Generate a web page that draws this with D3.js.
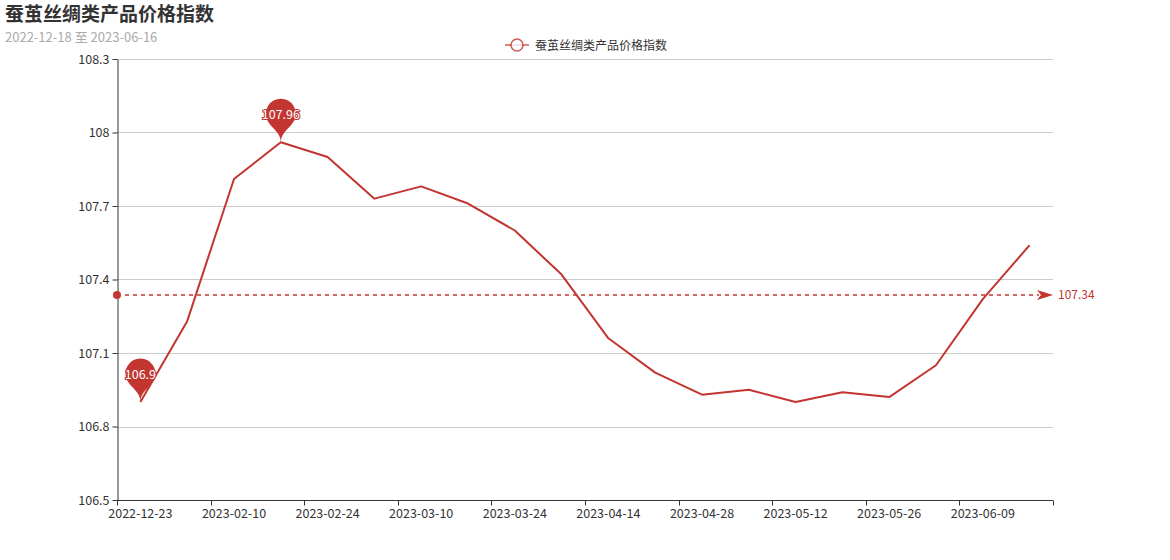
<!DOCTYPE html>
<html><head><meta charset="utf-8">
<script src="https://cdn.jsdelivr.net/npm/d3@7/dist/d3.min.js"></script>
<style>body{margin:0;background:#fff}svg{display:block}text{font-family:"Microsoft YaHei","Noto Sans CJK SC",sans-serif}</style>
</head><body><svg id="c" width="1170" height="560"></svg>
<script>
const titleText = "蚕茧丝绸类产品价格指数";
const subtitleText = "2022-12-18 至 2023-06-16";
const seriesName = "蚕茧丝绸类产品价格指数";
const categories = ["2022-12-23","2023-01-06","2023-02-10","2023-02-17","2023-02-24","2023-03-03","2023-03-10","2023-03-17","2023-03-24","2023-03-31","2023-04-14","2023-04-21","2023-04-28","2023-05-05","2023-05-12","2023-05-19","2023-05-26","2023-06-02","2023-06-09","2023-06-16"];
const values = [106.9,107.23,107.81,107.96,107.90,107.73,107.78,107.71,107.60,107.42,107.16,107.02,106.93,106.95,106.90,106.94,106.92,107.05,107.32,107.54];
const yTicks = [106.5,106.8,107.1,107.4,107.7,108,108.3];

const color = "#c23531";
const svg = d3.select("#c");
const L=117,R=1053,T=59,B=500;
const x = d3.scaleBand().domain(categories).range([L,R]);
const y = d3.scaleLinear().domain([106.5,108.3]).range([B,T]);
const cx = d => x(d)+x.bandwidth()/2;

// title
svg.append("text").attr("x",5).attr("y",21).attr("font-size",19).attr("font-weight","bold").attr("fill","#333").text(titleText);
svg.append("text").attr("x",5).attr("y",42).attr("font-size",13).attr("fill","#aaa").text(subtitleText);

// legend
const lg = svg.append("g");
lg.append("line").attr("x1",505).attr("x2",529).attr("y1",45).attr("y2",45).attr("stroke",color).attr("stroke-width",1.5).attr("opacity",0.8);
lg.append("circle").attr("cx",517).attr("cy",45).attr("r",6).attr("fill","#fff").attr("stroke",color).attr("stroke-width",1.5).attr("opacity",0.8);
lg.append("text").attr("x",535).attr("y",49.5).attr("font-size",12).attr("fill","#333").text(seriesName);

// grid lines
svg.append("g").selectAll("line").data(yTicks.slice(1)).join("line")
  .attr("x1",L).attr("x2",R).attr("y1",d=>Math.round(y(d))+0.5).attr("y2",d=>Math.round(y(d))+0.5)
  .attr("stroke","#ccc");

// y axis
const ya = svg.append("g").attr("transform",`translate(${L+0.5},0)`)
  .call(d3.axisLeft(y).tickValues(yTicks).tickSize(5).tickSizeOuter(0).tickFormat(d=>String(d)));
ya.select(".domain").attr("stroke","#333");
ya.selectAll(".tick line").attr("stroke","#333");
ya.selectAll(".tick text").attr("font-size",12.5).attr("fill","#333").attr("font-family",null).attr("x",-8);

// x axis
const xa = svg.append("g").attr("transform",`translate(0,${B+0.5})`);
xa.append("line").attr("x1",L).attr("x2",R).attr("stroke","#333");
const bounds = d3.range(0,categories.length+1,2);
xa.selectAll("line.tk").data(bounds).join("line").attr("class","tk")
  .attr("x1",i=>Math.round(L+i*x.step())+0.5).attr("x2",i=>Math.round(L+i*x.step())+0.5).attr("y1",0).attr("y2",5).attr("stroke","#333");
xa.selectAll("text").data(categories.filter((d,i)=>i%2===0)).join("text")
  .attr("x",d=>cx(d)).attr("y",17).attr("text-anchor","middle").attr("font-size",12.5).attr("fill","#333").text(d=>d);

// line
svg.append("path").datum(values).attr("fill","none").attr("stroke",color).attr("stroke-width",2).attr("stroke-linejoin","round")
  .attr("d",d3.line().x((d,i)=>cx(categories[i])).y(d=>y(d)));

// mark line average
const avg = d3.mean(values);
const avgLabel = avg.toFixed(2);
const ay = Math.round(y(avg));
svg.append("line").attr("x1",L+8).attr("x2",R-14).attr("y1",ay).attr("y2",ay).attr("stroke",color).attr("stroke-dasharray","4,4").attr("stroke-width",1.5);
svg.append("circle").attr("cx",L).attr("cy",ay).attr("r",4).attr("fill",color);
svg.append("path").attr("fill",color)
  .attr("d",`M${R},${ay} L${R-16},${ay-5} L${R-12},${ay} L${R-16},${ay+5} Z`);
svg.append("text").attr("x",R+5).attr("y",ay+4).attr("font-size",12).attr("fill",color).text(avgLabel);

// pin markers
function pinPath(px,py,size){
  const w=size/5*3, h=Math.max(w,size), r=w/2;
  const dy=r*r/(h-r), cyy=py-h+r+dy, ang=Math.asin(dy/r);
  const dx=Math.cos(ang)*r, tx=Math.sin(ang), ty=Math.cos(ang);
  const c1=r*0.6, c2=r*0.7;
  const p=d3.path();
  p.moveTo(px-dx,cyy+dy);
  p.arc(px,cyy,r,Math.PI-ang,Math.PI*2+ang);
  p.bezierCurveTo(px+dx-tx*c1,cyy+dy+ty*c1,px,py-c2,px,py);
  p.bezierCurveTo(px,py-c2,px-dx+tx*c1,cyy+dy+ty*c1,px-dx,cyy+dy);
  p.closePath();
  return {d:p.toString(), cy:cyy};
}
const maxI = d3.maxIndex(values), minI = d3.minIndex(values);
[maxI,minI].forEach(i=>{
  const px=cx(categories[i]), py=y(values[i]);
  const pp=pinPath(px,py,50);
  svg.append("path").attr("d",pp.d).attr("fill",color);
  svg.append("text").attr("x",px).attr("y",py-28+4.5).attr("text-anchor","middle").attr("font-size",12.5)
    .attr("fill","#fff").attr("stroke",color).attr("stroke-width",2).attr("paint-order","stroke").text(String(values[i]));
});
</script></body></html>
